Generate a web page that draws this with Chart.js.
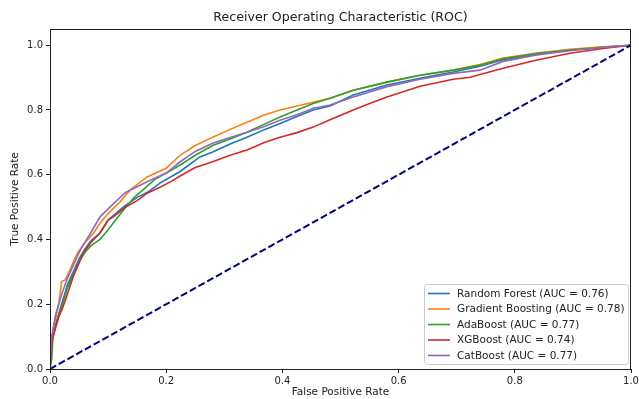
<!DOCTYPE html>
<html>
<head>
<meta charset="utf-8">
<script src="https://cdn.jsdelivr.net/npm/chart.js@4.4.1/dist/chart.umd.min.js"></script>
<style>
  html, body { margin: 0; padding: 0; background: #ffffff; }
  canvas { display: block; }
</style>
</head>
<body>
<canvas id="rocChart" width="639" height="399"></canvas>
<script>
// ROC curve data (FPR, TPR pairs)
const rfFpr = [0, 0.002, 0.005, 0.01, 0.02, 0.03, 0.04, 0.05, 0.06, 0.07, 0.086, 0.1, 0.126, 0.15, 0.167, 0.19, 0.2, 0.224, 0.258, 0.28, 0.31, 0.339, 0.37, 0.396, 0.425, 0.453, 0.482, 0.522, 0.58, 0.637, 0.694, 0.74, 0.78, 0.838, 0.895, 0.952, 1];
const rfTpr = [0, 0.07, 0.1, 0.14, 0.2, 0.26, 0.3, 0.34, 0.37, 0.395, 0.42, 0.46, 0.5, 0.53, 0.545, 0.575, 0.585, 0.61, 0.655, 0.67, 0.695, 0.716, 0.74, 0.758, 0.78, 0.8, 0.812, 0.846, 0.877, 0.898, 0.917, 0.935, 0.955, 0.972, 0.985, 0.994, 1];

const gbFpr = [0, 0.002, 0.005, 0.01, 0.015, 0.02, 0.026, 0.034, 0.04, 0.048, 0.06, 0.075, 0.086, 0.1, 0.12, 0.138, 0.167, 0.2, 0.224, 0.25, 0.28, 0.31, 0.339, 0.37, 0.396, 0.425, 0.453, 0.482, 0.522, 0.58, 0.637, 0.694, 0.74, 0.78, 0.838, 0.895, 0.952, 1];
const gbTpr = [0, 0.08, 0.12, 0.16, 0.2, 0.27, 0.275, 0.305, 0.33, 0.36, 0.39, 0.42, 0.45, 0.48, 0.515, 0.553, 0.593, 0.62, 0.66, 0.69, 0.716, 0.74, 0.762, 0.785, 0.8, 0.812, 0.824, 0.836, 0.861, 0.886, 0.907, 0.923, 0.94, 0.96, 0.976, 0.987, 0.995, 1];

const adaFpr = [0, 0.003, 0.005, 0.01, 0.02, 0.03, 0.04, 0.05, 0.06, 0.07, 0.086, 0.1, 0.126, 0.145, 0.16, 0.18, 0.2, 0.224, 0.25, 0.28, 0.31, 0.339, 0.37, 0.396, 0.425, 0.453, 0.482, 0.522, 0.58, 0.637, 0.694, 0.74, 0.78, 0.838, 0.895, 0.952, 1];
const adaTpr = [0, 0.03, 0.1, 0.13, 0.19, 0.25, 0.29, 0.33, 0.36, 0.38, 0.4, 0.43, 0.49, 0.53, 0.553, 0.585, 0.605, 0.63, 0.66, 0.69, 0.71, 0.731, 0.757, 0.778, 0.8, 0.82, 0.836, 0.861, 0.886, 0.907, 0.923, 0.938, 0.958, 0.974, 0.985, 0.993, 1];

const xgbFpr = [0, 0.003, 0.005, 0.014, 0.02, 0.026, 0.04, 0.057, 0.07, 0.086, 0.1, 0.109, 0.13, 0.15, 0.167, 0.19, 0.207, 0.224, 0.25, 0.28, 0.31, 0.339, 0.37, 0.396, 0.425, 0.453, 0.482, 0.522, 0.55, 0.58, 0.637, 0.694, 0.723, 0.78, 0.838, 0.895, 0.952, 1];
const xgbTpr = [0, 0.08, 0.096, 0.16, 0.18, 0.21, 0.285, 0.358, 0.39, 0.42, 0.46, 0.47, 0.5, 0.52, 0.543, 0.562, 0.578, 0.596, 0.622, 0.64, 0.66, 0.676, 0.7, 0.716, 0.73, 0.747, 0.77, 0.8, 0.82, 0.84, 0.873, 0.895, 0.901, 0.929, 0.954, 0.975, 0.99, 1];

const catFpr = [0, 0.002, 0.005, 0.01, 0.02, 0.03, 0.04, 0.052, 0.07, 0.086, 0.109, 0.13, 0.167, 0.2, 0.224, 0.25, 0.28, 0.31, 0.339, 0.37, 0.396, 0.425, 0.453, 0.482, 0.522, 0.58, 0.637, 0.694, 0.74, 0.78, 0.838, 0.895, 0.952, 1];
const catTpr = [0, 0.09, 0.12, 0.17, 0.23, 0.28, 0.32, 0.367, 0.42, 0.47, 0.51, 0.545, 0.578, 0.605, 0.64, 0.672, 0.697, 0.715, 0.731, 0.75, 0.768, 0.785, 0.805, 0.815, 0.84, 0.872, 0.895, 0.913, 0.923, 0.95, 0.97, 0.983, 0.993, 1];

const chanceFpr = [0, 1];
const chanceTpr = [0, 1];

const modelNames = ['Random Forest', 'Gradient Boosting', 'AdaBoost', 'XGBoost', 'CatBoost'];
const aucValues = [0.76, 0.78, 0.77, 0.74, 0.77];
const modelColors = ['#1f77b4', '#ff7f0e', '#2ca02c', '#d62728', '#9467bd'];

const xTicks = [0, 0.2, 0.4, 0.6, 0.8, 1.0];
const yTicks = [0, 0.2, 0.4, 0.6, 0.8, 1.0];

const FONT = "'DejaVu Sans', sans-serif";
const INK = '#222222';

function toPoints(xs, ys) {
    return xs.map((x, i) => ({ x: x, y: ys[i] }));
}

const curves = [
    [rfFpr, rfTpr], [gbFpr, gbTpr], [adaFpr, adaTpr], [xgbFpr, xgbTpr], [catFpr, catTpr]
];

const datasets = curves.map((c, i) => ({
    label: `${modelNames[i]} (AUC = ${aucValues[i].toFixed(2)})`,
    data: toPoints(c[0], c[1]),
    borderColor: modelColors[i],
    borderWidth: 1.6,
    pointRadius: 0,
    tension: 0,
    fill: false,
    order: 5 - i // later series drawn on top, like matplotlib
}));

datasets.push({
    label: 'chance',
    data: toPoints(chanceFpr, chanceTpr),
    borderColor: '#000080',
    borderWidth: 2,
    borderDash: [7, 3],
    pointRadius: 0,
    fill: false,
    order: 0
});

// Title, full frame and inner legend
const decorPlugin = {
    id: 'decor',
    afterDraw(chart) {
        const ctx = chart.ctx;
        const a = chart.chartArea;
        ctx.save();

        // frame on all four sides
        ctx.strokeStyle = INK;
        ctx.lineWidth = 1;
        ctx.strokeRect(Math.round(a.left) + 0.5, Math.round(a.top) + 0.5,
            Math.round(a.right - a.left) - 1, Math.round(a.bottom - a.top));

        // title
        ctx.fillStyle = INK;
        ctx.font = `12.6px ${FONT}`;
        ctx.textAlign = 'center';
        ctx.textBaseline = 'middle';
        ctx.fillText('Receiver Operating Characteristic (ROC)', (a.left + a.right) / 2, 18);

        // legend box
        const boxW = 204, boxH = 80;
        const bx = a.right - 3 - boxW, by = a.bottom - 5 - boxH;
        ctx.beginPath();
        ctx.roundRect(bx + 0.5, by + 0.5, boxW, boxH, 3);
        ctx.fillStyle = 'rgba(255,255,255,0.8)';
        ctx.fill();
        ctx.strokeStyle = '#cccccc';
        ctx.stroke();

        ctx.font = `10.5px ${FONT}`;
        ctx.textAlign = 'left';
        for (let i = 0; i < modelNames.length; i++) {
            const ds = chart.data.datasets[i];
            const yy = by + 9.5 + i * 15.5;
            ctx.beginPath();
            ctx.moveTo(bx + 4, yy);
            ctx.lineTo(bx + 26, yy);
            ctx.strokeStyle = ds.borderColor;
            ctx.lineWidth = 1.6;
            ctx.stroke();
            ctx.fillStyle = INK;
            ctx.fillText(ds.label, bx + 33, yy + 0.5);
        }
        ctx.restore();
    }
};

const ctx = document.getElementById('rocChart').getContext('2d');
const rocChart = new Chart(ctx, {
    type: 'line',
    data: { datasets: datasets },
    options: {
        responsive: false,
        animation: false,
        layout: { padding: { top: 29, right: 8, left: 0, bottom: 0 } },
        plugins: {
            legend: { display: false },
            title: { display: false },
            tooltip: { enabled: false }
        },
        scales: {
            x: {
                type: 'linear',
                min: 0,
                max: 1,
                afterBuildTicks: (axis) => { axis.ticks = xTicks.map(v => ({ value: v })); },
                afterFit: (axis) => {
                    axis.height = 30;
                    axis.paddingLeft = 0;
                    axis.paddingRight = 0;
                },
                grid: { display: true, drawOnChartArea: false, drawTicks: true, tickLength: 4, color: INK },
                border: { display: false },
                ticks: {
                    color: INK,
                    padding: 2,
                    maxRotation: 0,
                    font: { family: FONT, size: 10 },
                    callback: (v) => Number(v).toFixed(1)
                },
                title: {
                    display: true,
                    text: 'False Positive Rate',
                    color: INK,
                    font: { family: FONT, size: 10.5 },
                    padding: { top: 0, bottom: 0 }
                }
            },
            y: {
                type: 'linear',
                min: 0,
                max: 1.05,
                afterBuildTicks: (axis) => { axis.ticks = yTicks.map(v => ({ value: v })); },
                afterFit: (axis) => {
                    axis.width = 50;
                    axis.paddingTop = 0;
                    axis.paddingBottom = 0;
                },
                grid: { display: true, drawOnChartArea: false, drawTicks: true, tickLength: 4, color: INK },
                border: { display: false },
                ticks: {
                    color: INK,
                    padding: 3,
                    font: { family: FONT, size: 10 },
                    callback: (v) => Number(v).toFixed(1)
                },
                title: {
                    display: true,
                    text: 'True Positive Rate',
                    color: INK,
                    font: { family: FONT, size: 10.5 },
                    padding: { top: 9, bottom: 0 }
                }
            }
        }
    },
    plugins: [decorPlugin]
});
</script>
</body>
</html>
